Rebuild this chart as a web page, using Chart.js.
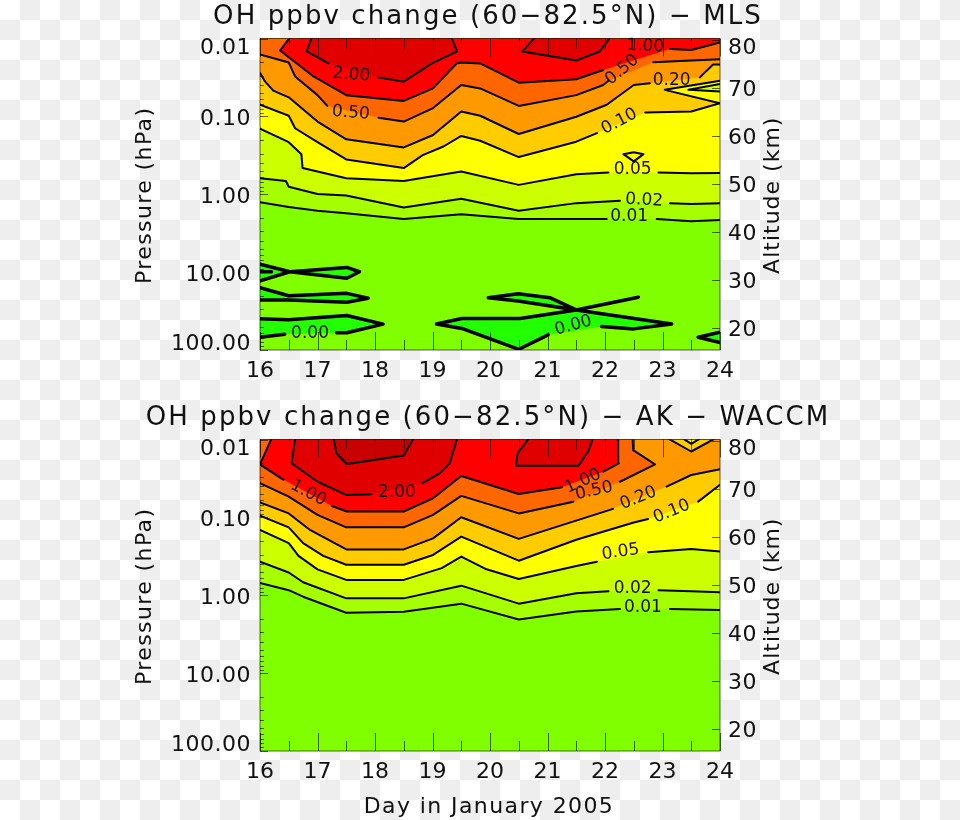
<!DOCTYPE html>
<html>
<head>
<meta charset="utf-8">
<title>OH ppbv change</title>
<script src="https://cdn.jsdelivr.net/npm/chart.js@4"></script>
<style>
html, body { margin: 0; padding: 0; }
body {
    width: 960px; height: 820px; position: relative; overflow: hidden;
    background: conic-gradient(#eeeeee 25%, #ffffff 0 50%, #eeeeee 0 75%, #ffffff 0) 0 0 / 40px 40px;
}
canvas { position: absolute; left: 0; }
#panel-mls { top: 0; }
#panel-ak { top: 401px; }
</style>
</head>
<body>
<canvas id="panel-mls" width="960" height="400"></canvas>
<canvas id="panel-ak" width="960" height="419"></canvas>
<script>
// axis ticks
const dayTicks = [16, 17, 18, 19, 20, 21, 22, 23, 24];
const dayMinorTicks = [16.5, 17.5, 18.5, 19.5, 20.5, 21.5, 22.5, 23.5];
const pressureTicks = [0.01, 0.1, 1, 10, 100];
const pressureLabels = ['0.01', '0.10', '1.00', '10.00', '100.00'];
const altitudeTicks = [20, 30, 40, 50, 60, 70, 80];

// contours, [day, altitude km], null = gap for the label
const mls001 = [[16, 46.2], [16.5, 45.2], [17, 44.4], [17.5, 43.9], [18.5, 42.7], [19.5, 43.7], [20.5, 42.7], [21.5, 42.7], [22.03, 42.7], null, [22.9, 42.7], [23.5, 42.2], [24, 42.5]];
const mls002 = [[16, 51.2], [16.45, 50.6], [16.5, 49.4], [17, 47.9], [17.5, 47.6], [18.5, 45.1], [19.5, 46.9], [20.5, 44.4], [21.5, 46.0], [22.26, 46.5], null, [23.13, 46.0], [23.5, 45.8], [24, 46.0]];
const mls005 = [[16, 61.5], [16.5, 58.7], [16.72, 56.2], [16.74, 53.3], [17, 52.6], [17.5, 51.2], [18.5, 50.6], [19.5, 52.6], [20.5, 49.8], [21.5, 52.0], [22.06, 52.4], null, [22.93, 52.4], [23.5, 52.2], [24, 52.3]];
const mls010 = [[16, 66.5], [16.5, 64.2], [16.61, 61.6], [17, 58.7], [17.5, 55.1], [18.5, 53.3], [18.83, 56.0], [19.19, 57.8], [19.5, 60.0], [19.83, 59.0], [20.5, 55.6], [21.5, 58.8], [21.86, 60.6], null, [22.7, 64.9], [23.5, 65.1], [24, 66.8]];
const mls020 = [[16, 73.1], [16.09, 71.3], [16.23, 69.45], [16.5, 68.05], [17, 63.0], [17.5, 59.3], [18.5, 57.6], [19.01, 60.2], [19.5, 65.1], [19.83, 64.2], [20.5, 60.4], [21.5, 64.0], [22.03, 66.5], [22.5, 70.6], [22.78, 71.0], null, [23.65, 72.2], [23.88, 74.9], [24, 74.9]];
const mls050 = [[16, 77.0], [16.5, 75.3], [16.61, 72.4], [17, 68.5], [17.17, 66.25], null, [18.06, 63.8], [18.5, 63.0], [19.01, 65.8], [19.5, 70.6], [19.83, 69.9], [20.5, 66.25], [21.5, 68.5], [21.97, 70.6], [22.06, 71.5], null, [22.84, 75.35], [23.5, 75.7], [24, 76.0]];
const mls100 = [[16.52, 80.5], [16.35, 77.8], [16.93, 72.4], [17.5, 68.5], [18.5, 67.3], [19.01, 69.9], [19.42, 75.1], [19.5, 75.3], [19.83, 75.1], [20.5, 71.1], [21.5, 71.8], [21.97, 73.75], null, [23.13, 78.1], [23.5, 77.9], [24, 79.45]];
const mls200a = [[16.9, 80.5], [16.81, 77.6], [17.19, 75.1], null, [18.06, 72.2], [18.5, 71.3], [18.99, 75.1], [19.43, 77.6], [19.33, 80.5]];
const mls200b = [[20.78, 80.5], [20.56, 77.6], [21.5, 75.7], [21.91, 77.6], [22.09, 80.5]];

// small closed shapes in the MLS panel
const mlsDiamond = [[22.32, 56.2], [22.5, 56.6], [22.67, 56.2], [22.5, 54.7], [22.32, 56.2]];
const mlsTongue = [[24, 71.5], [23.04, 69.6], [24, 66.8]];
const mlsTongueInner = [[24, 70.8], [23.45, 69.6], [24, 69.25]];

// zero contours
const mlsZero1 = [[16, 33.3], [16.52, 31.7], [16, 29.8]];
const mlsZero2 = [[16.52, 31.7], [17.51, 32.6], [17.73, 31.7], [17.51, 30.35], [16.52, 31.7]];
const mlsZero3 = [[16, 31.7], [16.2, 31.7]];
const mlsZero4 = [[16, 28.4], [16.5, 26.7], [17.51, 27.2], [17.88, 26.2], [17.51, 25.35], [16.5, 25.8], [16, 25.8]];
const mlsZero5 = [[16, 21.9], [16.5, 21.7], [17.51, 22.6], [18.14, 20.8], [17.51, 19.0], [17.33, 19.0], null, [16.43, 18.7], [16, 18.05]];
const mlsZero6 = [[19.07, 20.8], [19.51, 21.95], [20.52, 21.95], [21.5, 23.75], [23.16, 20.8], [22.5, 19.8], [21.94, 20.3], null, [21.01, 18.55], [20.5, 15.55], [19.51, 19.9], [19.07, 20.8]];
const mlsZero7 = [[19.97, 26.3], [20.49, 27.1], [21.04, 26.3], [21.5, 23.75], [20.49, 25.6], [19.97, 26.3]];
const mlsZero8 = [[21.5, 23.75], [22.58, 26.4]];
const mlsZero9 = [[24, 19.1], [23.62, 18.05], [24, 16.95]];

const ak001 = [[16, 50.4], [16.5, 48.9], [16.75, 47.55], [17.5, 44.2], [18.5, 44.4], [19.5, 46.1], [20.5, 42.8], [21.5, 44.45], [22.26, 45.0], null, [23.13, 45.0], [24, 44.8]];
const ak002 = [[16, 54.85], [16.5, 52.6], [16.75, 50.55], [17.5, 47.2], [18.5, 47.2], [19.5, 49.85], [20.5, 46.1], [21.5, 48.25], [22.06, 48.7], null, [22.93, 48.9], [23.5, 48.7], [24, 48.45]];
const ak005 = [[16, 61.45], [16.5, 58.7], [16.67, 56.05], [17, 53.25], [17.5, 51.05], [18.5, 51.05], [19.16, 53.5], [19.5, 55.9], [19.94, 53.25], [20.5, 51.25], [21.5, 53.95], [21.86, 54.85], null, [22.75, 56.8], [23.5, 57.5], [24, 56.95]];
const ak010 = [[16, 64.45], [16.5, 62.0], [16.75, 58.7], [17.1, 56.05], [17.5, 54.2], [18.5, 54.2], [19.01, 56.25], [19.5, 60.05], [20.5, 55.05], [21.5, 59.4], [22.5, 63.0], [22.75, 63.75], null, [23.62, 67.35], [24, 70.85]];
const ak020 = [[16, 67.2], [16.5, 64.9], [16.87, 61.45], [17.5, 57.4], [18.5, 57.4], [19.01, 59.7], [19.5, 64.1], [20.5, 59.6], [22.14, 65.85], null, [23.07, 70.5], [23.5, 72.9], [24, 74.1]];
const ak050 = [[16, 71.2], [16.5, 68.4], [17, 64.6], [17.5, 62.0], [18.5, 62.0], [19.01, 64.6], [19.5, 68.55], [20.5, 64.9], [21.45, 67.35], null, [22.26, 71.5], [22.87, 75.1], [22.49, 78.1], [22.48, 80.5]];
const ak100 = [[16.2, 80.5], [16, 75.1], [16.41, 71.9], null, [17.25, 66.45], [17.51, 65.3], [18.5, 65.3], [19.01, 68.05], [19.5, 72.7], [20.5, 68.95], [21.25, 70.35], null, [21.97, 73.6], [22.24, 75.35], [22.23, 80.5]];
const ak200a = [[16.61, 80.5], [16.55, 75.35], [17, 71.5], [17.5, 68.75], [17.94, 68.9], null, [18.83, 71.2], [19.13, 73.3], [19.3, 75.35], [19.43, 80.5]];
const ak200b = [[20.67, 80.5], [20.48, 77.4], [20.45, 74.85], [21.54, 74.85], [21.71, 77.8], [21.79, 80.5]];
const ak500 = [[17.28, 80.5], [17.33, 77.4], [17.51, 75.2], [18.5, 76.95], [18.67, 80.5]];
const akDiamond = [[23.1, 80.5], [23.5, 77.8], [23.91, 80.5]];
const akDiamondInner = [[23.36, 80.5], [23.5, 79.4], [23.65, 80.5]];

// contour labels
const mlsLabelTexts = ['2.00', '0.50', '0.05', '0.02', '0.01', '0.10', '0.20', '0.50', '1.00', '0.00', '0.00'];
const mlsLabelDays = [17.59, 17.58, 22.48, 22.68, 22.42, 22.25, 23.16, 22.3, 22.7, 16.87, 21.45];
const mlsLabelAlts = [73.06, 65.1, 53.4, 46.9, 43.5, 63.3, 71.8, 74.1, 79.0, 19.2, 20.8];
const akLabelTexts = ['1.00', '2.00', '1.00', '0.50', '0.20', '0.10', '0.05', '0.02', '0.01'];
const akLabelDays = [16.84, 18.38, 21.62, 21.81, 22.58, 23.16, 22.27, 22.48, 22.66];
const akLabelAlts = [69.45, 69.45, 71.9, 69.9, 68.4, 65.6, 57.15, 49.5, 45.6];

const mlsLabelAngles = [5, 5, 0, 3, 0, -27, 0, -40, 3, 0, -15];
const akLabelAngles = [28, 0, -25, -12, -22, -22, -8, 0, 0];

const font = '"DejaVu Sans"';
const textColor = '#111111';
const tickColor = 'rgba(0,0,0,0.6)';
const plotTopAlt = 81;

function xy(pts) {
    return pts.map(p => p ? { x: p[0], y: p[1] } : { x: null, y: null });
}

// filled area, no outline. chart.js draws the high order first, so later bands paint over earlier ones
let bandOrder = 1000;
function area(pts, color) {
    return {
        data: xy(pts),
        yAxisID: 'yAlt',
        backgroundColor: color,
        borderWidth: 0,
        pointRadius: 0,
        tension: 0,
        fill: 'shape',
        order: bandOrder--
    };
}

// contour closed along the top of the plot, runs straight through the label gaps
function band(pts, color) {
    const solid = pts.filter(p => p);
    const first = solid[0], last = solid[solid.length - 1];
    return area(solid.concat([[last[0], plotTopAlt], [first[0], plotTopAlt]]), color);
}

function patch(pts, color) {
    return area(pts.filter(p => p), color);
}

function contour(pts, width) {
    return {
        data: xy(pts),
        yAxisID: 'yAlt',
        borderColor: '#000000',
        borderWidth: width || 2,
        borderJoinStyle: 'round',
        borderCapStyle: 'round',
        pointRadius: 0,
        tension: 0,
        fill: false,
        spanGaps: false,
        order: 1
    };
}

function text(ctx, str, x, y, size, align, angle, spacing) {
    ctx.save();
    ctx.translate(x, y);
    ctx.rotate((angle || 0) * Math.PI / 180);
    ctx.font = size + 'px ' + font;
    ctx.letterSpacing = (spacing || 0) + 'px';
    ctx.textAlign = align || 'center';
    ctx.textBaseline = 'middle';
    ctx.fillStyle = textColor;
    ctx.fillText(str, 0, 0);
    ctx.restore();
}

const framePlugin = {
    id: 'frame',
    beforeDatasetsDraw(chart) {
        const a = chart.chartArea;
        chart.ctx.fillStyle = '#80ff00';
        chart.ctx.fillRect(a.left, a.top, a.width, a.height);
    },
    afterDatasetsDraw(chart, args, opts) {
        const { ctx, chartArea: a, scales } = chart;
        ctx.save();
        ctx.strokeStyle = tickColor;
        ctx.lineWidth = 1;
        ctx.beginPath();
        ctx.rect(a.left, a.top, a.width, a.height);
        const hTick = (v, len) => {
            const px = Math.round(scales.x.getPixelForValue(v)) + 0.5;
            ctx.moveTo(px, a.bottom); ctx.lineTo(px, a.bottom - len);
            ctx.moveTo(px, a.top); ctx.lineTo(px, a.top + len);
        };
        dayTicks.forEach(d => hTick(d, 18));
        dayMinorTicks.forEach(d => hTick(d, 10));
        const vLeft = (p, len) => {
            const py = Math.round(scales.yP.getPixelForValue(p)) + 0.5;
            ctx.moveTo(a.left, py); ctx.lineTo(a.left + len, py);
        };
        pressureTicks.forEach(p => {
            vLeft(p, 8);
            if (p < 100) [2, 3, 4, 5, 6, 7, 8, 9].forEach(m => vLeft(p * m, 4));
        });
        altitudeTicks.forEach(alt => {
            const py = Math.round(scales.yAlt.getPixelForValue(alt)) + 0.5;
            ctx.moveTo(a.right, py); ctx.lineTo(a.right - 8, py);
        });
        ctx.stroke();
        ctx.restore();

        // contour labels
        opts.labelTexts.forEach((t, i) => {
            text(ctx, t, scales.x.getPixelForValue(opts.labelDays[i]),
                scales.yAlt.getPixelForValue(opts.labelAlts[i]) + 1.5, 17, 'center', opts.labelAngles[i]);
        });

        // axis labels, the end ones are pulled inside the frame
        pressureTicks.forEach((p, i) => {
            const nudge = i === 0 ? 10 : i === pressureTicks.length - 1 ? -6 : 3;
            text(ctx, pressureLabels[i], 251, scales.yP.getPixelForValue(p) + nudge, 22, 'right', 0, 0.5);
        });
        altitudeTicks.forEach(alt => {
            const nudge = alt === 80 ? 8 : 2;
            text(ctx, String(alt), 728, scales.yAlt.getPixelForValue(alt) + nudge, 22, 'left', 0, 0.5);
        });
        const mid = (a.top + a.bottom) / 2 + 1;
        text(ctx, 'Pressure (hPa)', 145, mid, 22, 'center', -90, 1.4);
        text(ctx, 'Altitude (km)', 773, mid, 22, 'center', -90, 1);
        text(ctx, opts.title, 488, 17, 26, 'center', 0, 2.1);
        if (opts.xTitle) text(ctx, opts.xTitle, 489, 406, 22, 'center', 0, 1.4);
    }
};

function panel(id, datasets, bottomPad, opts) {
    return new Chart(document.getElementById(id), {
        type: 'line',
        data: { datasets: datasets },
        options: {
            responsive: false,
            animation: false,
            layout: { padding: { left: 260, right: 240, top: 38.5, bottom: bottomPad } },
            plugins: { legend: { display: false }, tooltip: { enabled: false }, frame: opts },
            scales: {
                x: {
                    type: 'linear', min: 16, max: 24,
                    afterFit: s => { s.height = 40; },
                    afterBuildTicks: s => { s.ticks = dayTicks.map(v => ({ value: v })); },
                    grid: { display: false },
                    border: { display: false },
                    ticks: { color: textColor, font: { family: font, size: 22 }, maxRotation: 0, autoSkip: false, padding: 0 }
                },
                yP: {
                    type: 'logarithmic', position: 'left', reverse: true, min: 0.01, max: 100,
                    afterFit: s => { s.width = 0; },
                    grid: { display: false }, border: { display: false }, ticks: { display: false }
                },
                yAlt: {
                    type: 'linear', position: 'right', min: 15.4, max: 80.3,
                    afterFit: s => { s.width = 0; },
                    grid: { display: false }, border: { display: false }, ticks: { display: false }
                }
            }
        },
        plugins: [framePlugin]
    });
}

const zeroGreen = '#22ff00';

panel('panel-mls', [
    band(mls001, '#a6ff00'), band(mls002, '#ccff00'), band(mls005, '#ffff00'), band(mls010, '#ffcc00'),
    band(mls020, '#ff9900'), band(mls050, '#ff6600'), band(mls100, '#ff0000'),
    band(mls200a, '#e00000'), band(mls200b, '#e00000'),
    patch(mlsTongue, '#ffff00'), patch(mlsTongueInner, '#ccff00'),
    patch(mlsZero1, zeroGreen), patch(mlsZero2, zeroGreen), patch(mlsZero4, zeroGreen),
    patch(mlsZero5, zeroGreen), patch(mlsZero6, zeroGreen), patch(mlsZero7, zeroGreen),
    patch(mlsZero9, zeroGreen),
    contour(mls001), contour(mls002), contour(mls005), contour(mls010), contour(mls020), contour(mls050),
    contour(mls100), contour(mls200a), contour(mls200b), contour(mlsDiamond), contour(mlsTongue), contour(mlsTongueInner),
    contour(mlsZero1, 3.5), contour(mlsZero2, 3.5), contour(mlsZero3, 3.5), contour(mlsZero4, 3.5), contour(mlsZero5, 3.5),
    contour(mlsZero6, 3.5), contour(mlsZero7, 3.5), contour(mlsZero8, 3.5), contour(mlsZero9, 3.5)
], 10, {
    title: 'OH ppbv change (60\u221282.5\u00b0N) \u2212 MLS',
    labelTexts: mlsLabelTexts, labelDays: mlsLabelDays, labelAlts: mlsLabelAlts, labelAngles: mlsLabelAngles
});

panel('panel-ak', [
    band(ak001, '#a6ff00'), band(ak002, '#ccff00'), band(ak005, '#ffff00'), band(ak010, '#ffcc00'),
    band(ak020, '#ff9900'), band(ak050, '#ff6600'), band(ak100, '#ff0000'),
    band(ak200a, '#e00000'), band(ak200b, '#e00000'), band(ak500, '#c80000'),
    band(akDiamond, '#ffcc00'), band(akDiamondInner, '#ffff00'),
    contour(ak001), contour(ak002), contour(ak005), contour(ak010), contour(ak020), contour(ak050),
    contour(ak100), contour(ak200a), contour(ak200b), contour(ak500), contour(akDiamond), contour(akDiamondInner)
], 29, {
    title: 'OH ppbv change (60\u221282.5\u00b0N) \u2212 AK \u2212 WACCM',
    xTitle: 'Day in January 2005',
    labelTexts: akLabelTexts, labelDays: akLabelDays, labelAlts: akLabelAlts, labelAngles: akLabelAngles
});
</script>
</body>
</html>
